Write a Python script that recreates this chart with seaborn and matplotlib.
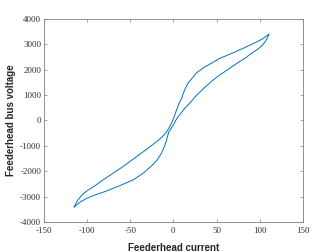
import numpy as np
import pandas as pd
import matplotlib
matplotlib.use('Agg')
import matplotlib.pyplot as plt
import seaborn as sns

# loop: upper branch (lower-left tip -> upper-right tip),
# then lower branch back to the start
upper_x = [-115, -111, -106, -100, -92, -81, -70, -61, -44, -32, -24.7, -15, -9.3, -5, -1.5, 1.5, 4.3, 7, 10,
           11.5, 13.9, 17, 21.6, 27, 35, 44.8, 54, 64, 73, 82, 92, 102.7, 111]
upper_y = [-3410, -3150, -2940, -2770, -2600, -2330, -2080, -1880, -1460, -1160, -975, -711, -513, -290, -55, 200, 474, 700, 900,
           1070, 1263, 1470, 1658, 1880, 2080, 2270, 2450, 2590, 2720, 2860, 3020, 3200, 3405]
lower_x = [111, 107, 103, 98, 92, 83, 73, 63, 54, 44.8, 35, 27, 20, 13, 8, 4, 0, -5.4, -8, -10.5, -14,
           -19, -25, -35, -46, -61, -80, -92, -100, -108, -115]
lower_y = [3405, 3130, 2960, 2810, 2680, 2450, 2240, 2000, 1800, 1560, 1260, 1000, 720, 474, 250, 79, -180, -460, -780, -1040, -1300,
           -1567, -1780, -2080, -2330, -2554, -2810, -2950, -3060, -3213, -3410]

df = pd.DataFrame({
    'current': upper_x + lower_x,
    'voltage': upper_y + lower_y,
})

sns.set_theme(style='white')
plt.rcParams['font.family'] = ['Liberation Sans', 'DejaVu Sans']

fig = plt.figure(figsize=(3.35, 2.52), dpi=100)
ax = fig.add_axes([0.131, 0.119, 0.773, 0.806])

sns.lineplot(data=df, x='current', y='voltage', sort=False, estimator=None,
             color='#0072BD', linewidth=0.7, ax=ax)

ax.set_xlim(-150, 150)
ax.set_ylim(-4000, 4000)
ax.set_xticks([-150, -100, -50, 0, 50, 100, 150])
ax.set_yticks(np.arange(-4000, 4001, 1000))
ax.set_xticklabels([f'{v:d}' for v in ax.get_xticks().astype(int)])
ax.set_yticklabels([f'{v:d}' for v in ax.get_yticks().astype(int)])

for s in ax.spines.values():
    s.set_visible(True)
    s.set_color('#808080')
    s.set_linewidth(0.6)
ax.tick_params(direction='in', length=2.5, width=0.5, color='#808080',
               top=True, right=True, bottom=True, left=True,
               labelsize=6.5, labelcolor='#333333', pad=2)
ax.tick_params(axis='x', pad=3.5)
for lab in ax.get_xticklabels() + ax.get_yticklabels():
    lab.set_family('Liberation Serif')

ax.set_xlabel('Feederhead current', fontsize=7, fontweight='bold', color='#262626', labelpad=6)
ax.set_ylabel('Feederhead bus voltage', fontsize=7, fontweight='bold', color='#262626', labelpad=3)

fig.savefig('out.png', dpi=100)
